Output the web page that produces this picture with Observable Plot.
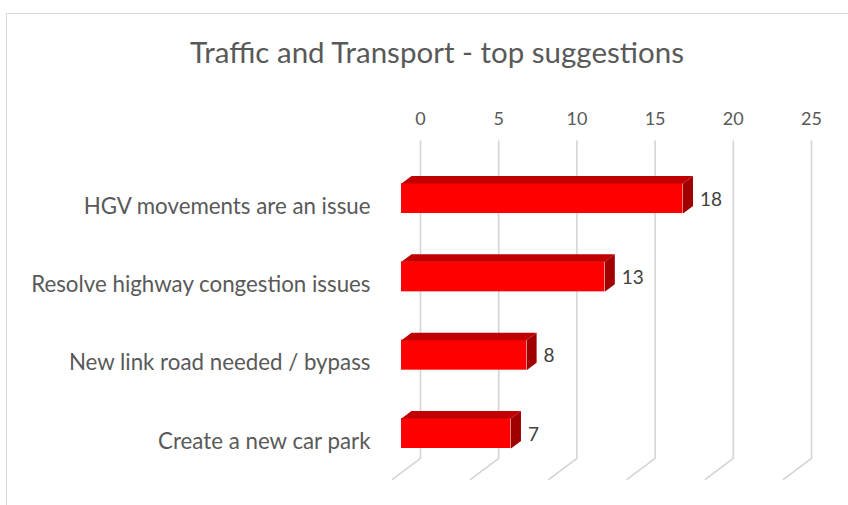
<!DOCTYPE html>
<html>
<head>
<meta charset="utf-8">
<script src="https://cdn.jsdelivr.net/npm/d3@7"></script>
<script src="https://cdn.jsdelivr.net/npm/@observablehq/plot@0.6"></script>
<style>
  html, body { margin: 0; padding: 0; background: #fff; overflow: hidden; }
  #wrap { position: relative; width: 848px; height: 505px; overflow: hidden; font-family: Lato, "Open Sans", sans-serif; }
  #border { position: absolute; left: 6px; top: 13px; width: 900px; height: 600px; border: 1px solid #d9d9d9; box-sizing: border-box; }
  #title { position: absolute; left: 0; width: 874px; top: 34px; text-align: center; font-size: 29.5px; color: #595959; line-height: 1.2; }
  #chart { position: absolute; left: 0; top: 0; }
</style>
</head>
<body>
<div id="wrap">
  <div id="border"></div>
  <div id="title">Traffic and Transport - top suggestions</div>
  <div id="chart"></div>
</div>
<script>
const categories = [
  "HGV movements are an issue",
  "Resolve highway congestion issues",
  "New link road needed / bypass",
  "Create a new car park"
];
const values = [18, 13, 8, 7];
const xTicks = [0, 5, 10, 15, 20, 25];

// scale setup (front plane of the bars)
const X_RANGE = [401, 792];
const Y_RANGE = [198, 433];
const UX = (X_RANGE[1] - X_RANGE[0]) / 25;
const UY = (Y_RANGE[1] - Y_RANGE[0]) / 3;
// oblique depth: from floor front (z=0) to back wall (z=1)
const DEPTH = [28, -21];
const Z_FLOOR = 0, Z_FRONT = 9 / 28, Z_BACK = 19 / 28, Z_WALL = 1;
const H = 15 / UY;           // half bar thickness in category units
const WALL = [-0.55, 3.5];   // wall extent in category units

const proj = (v, i, z) => ({
  x: v + (z - Z_FRONT) * DEPTH[0] / UX,
  y: i + (z - Z_FRONT) * DEPTH[1] / UY
});

const grid = xTicks.flatMap(t => [
  {t, ...proj(t, WALL[0], Z_WALL)},
  {t, ...proj(t, WALL[1], Z_WALL)},
  {t, ...proj(t, WALL[1], Z_FLOOR)}
]);

const bars = values.map((v, i) => ({v, i, name: categories[i]}));
const topFaces = bars.flatMap(({v, i}) =>
  [proj(0, i - H, Z_FRONT), proj(v, i - H, Z_FRONT), proj(v, i - H, Z_BACK), proj(0, i - H, Z_BACK)]
    .map(p => ({...p, k: i})));
const sideFaces = bars.flatMap(({v, i}) =>
  [proj(v, i - H, Z_FRONT), proj(v, i + H, Z_FRONT), proj(v, i + H, Z_BACK), proj(v, i - H, Z_BACK)]
    .map(p => ({...p, k: i})));

const plot = Plot.plot({
  width: 848,
  height: 505,
  marginLeft: 380,
  marginRight: 30,
  marginTop: 140,
  marginBottom: 40,
  style: {fontFamily: "Lato, 'Open Sans', sans-serif", background: "transparent", overflow: "visible"},
  x: {domain: [0, 25], range: X_RANGE},
  y: {domain: [0, 3], range: Y_RANGE},
  marks: [
    Plot.line(grid, {x: "x", y: "y", z: "t", stroke: "#d4d4d4", strokeWidth: 1.6}),
    Plot.axisX(xTicks, {anchor: "top", tickSize: 0, tickPadding: 16, dx: 19, fontSize: 18, fill: "#595959"}),
    Plot.axisY([0, 1, 2, 3], {anchor: "left", tickSize: 0, tickPadding: 10, dy: 8, fontSize: 22.3, fill: "#595959",
      tickFormat: i => categories[i]}),
    Plot.rect(bars, {x1: d => 0, x2: "v", y1: d => d.i - H, y2: d => d.i + H, fill: "#ff0000"}),
    Plot.line(topFaces, {x: "x", y: "y", z: "k", fill: "#c00000", stroke: null}),
    Plot.line(sideFaces, {x: "x", y: "y", z: "k", fill: "#a00000", stroke: null}),
    Plot.text(bars, {x: "v", y: "i", text: d => String(d.v), dx: 17, dy: 1, textAnchor: "start",
      fontSize: 19, fill: "#404040"})
  ]
});
document.getElementById("chart").appendChild(plot);
</script>
</body>
</html>
